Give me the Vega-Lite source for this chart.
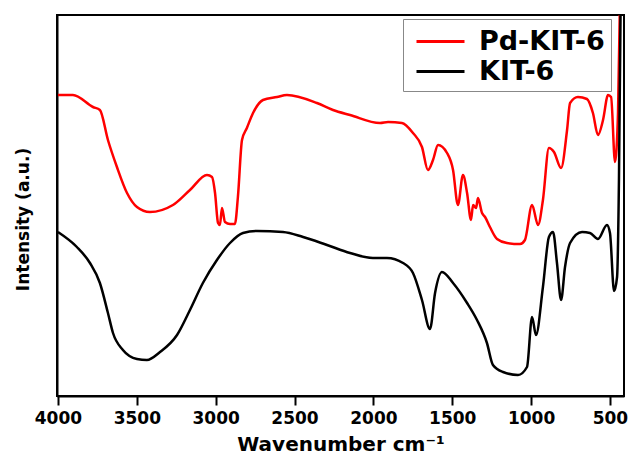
{
  "$schema": "https://vega.github.io/schema/vega-lite/v6.json",
  "autosize": {"type": "none"},
  "width": 567,
  "height": 381,
  "padding": {"left": 57, "top": 15, "right": 5, "bottom": 69},
  "background": "white",
  "config": {
    "font": "DejaVu Sans",
    "view": {"stroke": "black", "strokeWidth": 2},
    "axis": {"grid": false}
  },
  "datasets": {
    "spectra": [
      {"sample": "Pd-KIT-6", "wn": 4000, "y": 303},
      {"sample": "Pd-KIT-6", "wn": 3905, "y": 303},
      {"sample": "Pd-KIT-6", "wn": 3778, "y": 291},
      {"sample": "Pd-KIT-6", "wn": 3734, "y": 288},
      {"sample": "Pd-KIT-6", "wn": 3683, "y": 258},
      {"sample": "Pd-KIT-6", "wn": 3626, "y": 231},
      {"sample": "Pd-KIT-6", "wn": 3562, "y": 205},
      {"sample": "Pd-KIT-6", "wn": 3499, "y": 191},
      {"sample": "Pd-KIT-6", "wn": 3417, "y": 186},
      {"sample": "Pd-KIT-6", "wn": 3271, "y": 193},
      {"sample": "Pd-KIT-6", "wn": 3163, "y": 208},
      {"sample": "Pd-KIT-6", "wn": 3055, "y": 223},
      {"sample": "Pd-KIT-6", "wn": 3023, "y": 221},
      {"sample": "Pd-KIT-6", "wn": 3004, "y": 205},
      {"sample": "Pd-KIT-6", "wn": 2985, "y": 175},
      {"sample": "Pd-KIT-6", "wn": 2973, "y": 173},
      {"sample": "Pd-KIT-6", "wn": 2960, "y": 190},
      {"sample": "Pd-KIT-6", "wn": 2941, "y": 176},
      {"sample": "Pd-KIT-6", "wn": 2909, "y": 174},
      {"sample": "Pd-KIT-6", "wn": 2878, "y": 174},
      {"sample": "Pd-KIT-6", "wn": 2859, "y": 201},
      {"sample": "Pd-KIT-6", "wn": 2833, "y": 258},
      {"sample": "Pd-KIT-6", "wn": 2802, "y": 270},
      {"sample": "Pd-KIT-6", "wn": 2763, "y": 285},
      {"sample": "Pd-KIT-6", "wn": 2700, "y": 298},
      {"sample": "Pd-KIT-6", "wn": 2611, "y": 301},
      {"sample": "Pd-KIT-6", "wn": 2548, "y": 303},
      {"sample": "Pd-KIT-6", "wn": 2358, "y": 295},
      {"sample": "Pd-KIT-6", "wn": 2256, "y": 288},
      {"sample": "Pd-KIT-6", "wn": 2148, "y": 283},
      {"sample": "Pd-KIT-6", "wn": 1958, "y": 275},
      {"sample": "Pd-KIT-6", "wn": 1907, "y": 276},
      {"sample": "Pd-KIT-6", "wn": 1819, "y": 275},
      {"sample": "Pd-KIT-6", "wn": 1749, "y": 265},
      {"sample": "Pd-KIT-6", "wn": 1692, "y": 251},
      {"sample": "Pd-KIT-6", "wn": 1654, "y": 228},
      {"sample": "Pd-KIT-6", "wn": 1622, "y": 238},
      {"sample": "Pd-KIT-6", "wn": 1590, "y": 253},
      {"sample": "Pd-KIT-6", "wn": 1533, "y": 245},
      {"sample": "Pd-KIT-6", "wn": 1495, "y": 228},
      {"sample": "Pd-KIT-6", "wn": 1464, "y": 193},
      {"sample": "Pd-KIT-6", "wn": 1432, "y": 223},
      {"sample": "Pd-KIT-6", "wn": 1406, "y": 205},
      {"sample": "Pd-KIT-6", "wn": 1381, "y": 178},
      {"sample": "Pd-KIT-6", "wn": 1368, "y": 193},
      {"sample": "Pd-KIT-6", "wn": 1349, "y": 190},
      {"sample": "Pd-KIT-6", "wn": 1337, "y": 200},
      {"sample": "Pd-KIT-6", "wn": 1311, "y": 185},
      {"sample": "Pd-KIT-6", "wn": 1292, "y": 181},
      {"sample": "Pd-KIT-6", "wn": 1261, "y": 171},
      {"sample": "Pd-KIT-6", "wn": 1216, "y": 159},
      {"sample": "Pd-KIT-6", "wn": 1153, "y": 155},
      {"sample": "Pd-KIT-6", "wn": 1070, "y": 154},
      {"sample": "Pd-KIT-6", "wn": 1039, "y": 158},
      {"sample": "Pd-KIT-6", "wn": 994, "y": 193},
      {"sample": "Pd-KIT-6", "wn": 956, "y": 173},
      {"sample": "Pd-KIT-6", "wn": 925, "y": 198},
      {"sample": "Pd-KIT-6", "wn": 887, "y": 250},
      {"sample": "Pd-KIT-6", "wn": 855, "y": 246},
      {"sample": "Pd-KIT-6", "wn": 810, "y": 230},
      {"sample": "Pd-KIT-6", "wn": 772, "y": 268},
      {"sample": "Pd-KIT-6", "wn": 753, "y": 295},
      {"sample": "Pd-KIT-6", "wn": 703, "y": 301},
      {"sample": "Pd-KIT-6", "wn": 646, "y": 299},
      {"sample": "Pd-KIT-6", "wn": 608, "y": 285},
      {"sample": "Pd-KIT-6", "wn": 576, "y": 263},
      {"sample": "Pd-KIT-6", "wn": 544, "y": 278},
      {"sample": "Pd-KIT-6", "wn": 512, "y": 303},
      {"sample": "Pd-KIT-6", "wn": 493, "y": 301},
      {"sample": "Pd-KIT-6", "wn": 468, "y": 236},
      {"sample": "Pd-KIT-6", "wn": 449, "y": 285},
      {"sample": "Pd-KIT-6", "wn": 438, "y": 383},
      {"sample": "KIT-6", "wn": 4000, "y": 166},
      {"sample": "KIT-6", "wn": 3880, "y": 151},
      {"sample": "KIT-6", "wn": 3797, "y": 135},
      {"sample": "KIT-6", "wn": 3734, "y": 115},
      {"sample": "KIT-6", "wn": 3683, "y": 85},
      {"sample": "KIT-6", "wn": 3651, "y": 65},
      {"sample": "KIT-6", "wn": 3588, "y": 48},
      {"sample": "KIT-6", "wn": 3499, "y": 39},
      {"sample": "KIT-6", "wn": 3436, "y": 38},
      {"sample": "KIT-6", "wn": 3353, "y": 46},
      {"sample": "KIT-6", "wn": 3245, "y": 63},
      {"sample": "KIT-6", "wn": 3163, "y": 88},
      {"sample": "KIT-6", "wn": 3081, "y": 115},
      {"sample": "KIT-6", "wn": 2992, "y": 138},
      {"sample": "KIT-6", "wn": 2909, "y": 155},
      {"sample": "KIT-6", "wn": 2827, "y": 165},
      {"sample": "KIT-6", "wn": 2738, "y": 167},
      {"sample": "KIT-6", "wn": 2573, "y": 166},
      {"sample": "KIT-6", "wn": 2446, "y": 161},
      {"sample": "KIT-6", "wn": 2294, "y": 153},
      {"sample": "KIT-6", "wn": 2148, "y": 145},
      {"sample": "KIT-6", "wn": 2003, "y": 140},
      {"sample": "KIT-6", "wn": 1914, "y": 140},
      {"sample": "KIT-6", "wn": 1812, "y": 135},
      {"sample": "KIT-6", "wn": 1749, "y": 125},
      {"sample": "KIT-6", "wn": 1692, "y": 98},
      {"sample": "KIT-6", "wn": 1641, "y": 69},
      {"sample": "KIT-6", "wn": 1609, "y": 105},
      {"sample": "KIT-6", "wn": 1565, "y": 126},
      {"sample": "KIT-6", "wn": 1495, "y": 115},
      {"sample": "KIT-6", "wn": 1406, "y": 95},
      {"sample": "KIT-6", "wn": 1343, "y": 78},
      {"sample": "KIT-6", "wn": 1280, "y": 55},
      {"sample": "KIT-6", "wn": 1242, "y": 33},
      {"sample": "KIT-6", "wn": 1178, "y": 26},
      {"sample": "KIT-6", "wn": 1083, "y": 23},
      {"sample": "KIT-6", "wn": 1026, "y": 31},
      {"sample": "KIT-6", "wn": 994, "y": 81},
      {"sample": "KIT-6", "wn": 969, "y": 63},
      {"sample": "KIT-6", "wn": 925, "y": 111},
      {"sample": "KIT-6", "wn": 887, "y": 161},
      {"sample": "KIT-6", "wn": 861, "y": 166},
      {"sample": "KIT-6", "wn": 836, "y": 135},
      {"sample": "KIT-6", "wn": 810, "y": 98},
      {"sample": "KIT-6", "wn": 785, "y": 131},
      {"sample": "KIT-6", "wn": 753, "y": 155},
      {"sample": "KIT-6", "wn": 677, "y": 166},
      {"sample": "KIT-6", "wn": 627, "y": 165},
      {"sample": "KIT-6", "wn": 576, "y": 159},
      {"sample": "KIT-6", "wn": 519, "y": 173},
      {"sample": "KIT-6", "wn": 500, "y": 165},
      {"sample": "KIT-6", "wn": 474, "y": 107},
      {"sample": "KIT-6", "wn": 455, "y": 121},
      {"sample": "KIT-6", "wn": 443, "y": 218},
      {"sample": "KIT-6", "wn": 433, "y": 383}
    ]
  },
  "data": {"name": "spectra"},
  "mark": {"type": "line", "strokeWidth": 2.5, "clip": true, "interpolate": "monotone"},
  "encoding": {
    "x": {
      "field": "wn",
      "type": "quantitative",
      "scale": {"domain": [4006, 411], "nice": false, "zero": false},
      "axis": {
        "title": "Wavenumber cm⁻¹",
        "values": [4000, 3500, 3000, 2500, 2000, 1500, 1000, 500],
        "format": "d",
        "labelFont": "DejaVu Sans",
        "labelFontSize": 17,
        "labelFontWeight": "bold",
        "labelColor": "black",
        "labelPadding": 5,
        "labelFlush": false,
        "tickColor": "black",
        "tickWidth": 2,
        "tickSize": 9,
        "domainColor": "black",
        "domainWidth": 2,
        "titleFont": "DejaVu Sans",
        "titleFontSize": 20,
        "titleFontWeight": "bold",
        "titleColor": "black",
        "titlePadding": 8
      }
    },
    "y": {
      "field": "y",
      "type": "quantitative",
      "scale": {"domain": [2, 383], "nice": false, "zero": false},
      "axis": {
        "title": "Intensity (a.u.)",
        "labels": false,
        "ticks": false,
        "domainColor": "black",
        "domainWidth": 2,
        "titleFont": "DejaVu Sans",
        "titleFontSize": 17,
        "titleFontWeight": "bold",
        "titleColor": "black",
        "titlePadding": 25,
        "titleY": 204
      }
    },
    "color": {
      "field": "sample",
      "type": "nominal",
      "scale": {"domain": ["Pd-KIT-6", "KIT-6"], "range": ["#ff0000", "#000000"]},
      "legend": {
        "title": null,
        "orient": "none",
        "legendX": 346,
        "legendY": 4,
        "symbolType": "M-0.6,0H2.6",
        "symbolSize": 900,
        "symbolStrokeWidth": 3,
        "labelFont": "DejaVu Sans",
        "labelFontSize": 27,
        "labelFontWeight": "bold",
        "labelColor": "black",
        "labelOffset": 37,
        "rowPadding": 0,
        "padding": 6,
        "strokeColor": "#888888",
        "fillColor": "white",
        "labelLimit": 300
      }
    }
  }
}
